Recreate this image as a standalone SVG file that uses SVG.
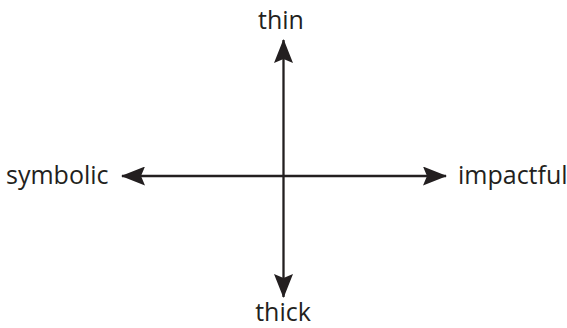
<svg xmlns="http://www.w3.org/2000/svg" width="567" height="328" viewBox="0 0 567 328">
<style>
.lbl{font-family:"Open Sans","Noto Sans",sans-serif;font-size:25px;fill:#231f20}
.ax{stroke:#231f20;stroke-width:2.3;fill:none}
</style>
<defs>
<marker id="ah" viewBox="0 0 24 19" refX="23" refY="9.5" markerWidth="24" markerHeight="19" markerUnits="userSpaceOnUse" orient="auto-start-reverse">
<path d="M0,0 L24,9.5 L0,19 L4,9.5 Z" fill="#231f20"/>
</marker>
</defs>
<g id="connectors">
<line class="ax" x1="283.5" y1="40" x2="283.5" y2="297" marker-start="url(#ah)" marker-end="url(#ah)"/>
<line class="ax" x1="122" y1="176" x2="446" y2="176" marker-start="url(#ah)" marker-end="url(#ah)"/>
</g>
<g id="thin"><text class="lbl" x="281" y="29" text-anchor="middle">thin</text></g>
<g id="thick"><text class="lbl" x="283" y="321" text-anchor="middle">thick</text></g>
<g id="symbolic"><text class="lbl" x="6" y="184">symbolic</text></g>
<g id="impactful"><text class="lbl" x="458" y="184">impactful</text></g>
</svg>
